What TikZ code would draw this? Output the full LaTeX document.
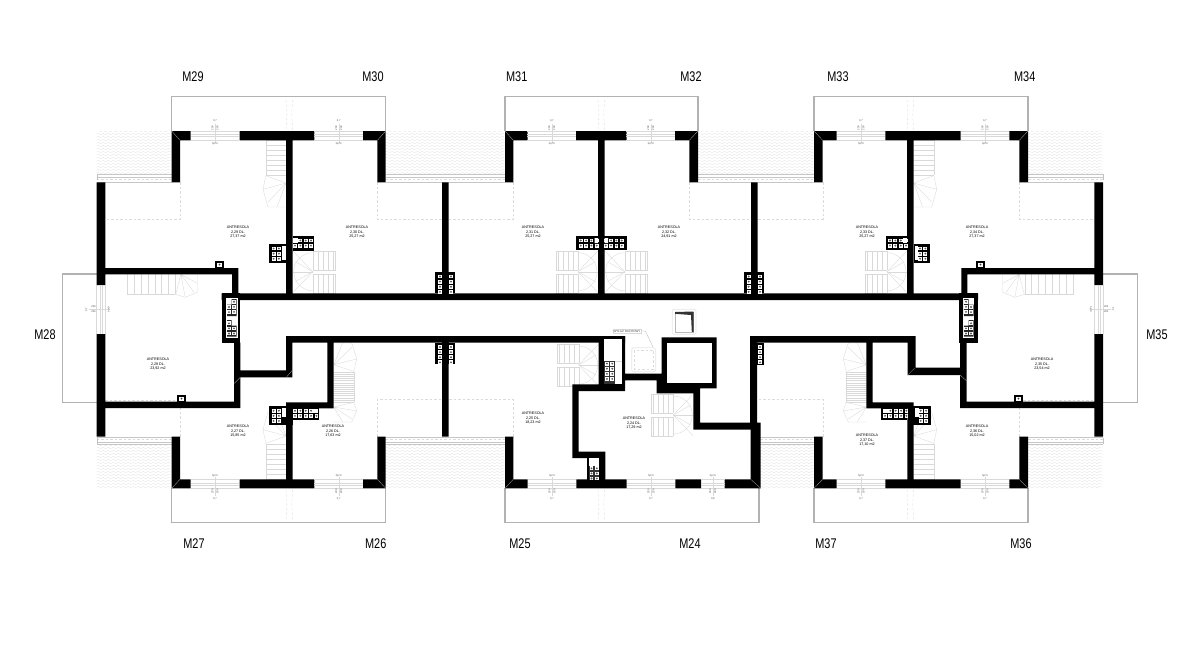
\documentclass[tikz,border=0pt]{standalone}
\usepackage{fontspec}
\setmainfont{Liberation Sans}
\newfontfamily\unitfont[FakeStretch=0.78]{Liberation Sans}
\usetikzlibrary{decorations.pathmorphing}

\tikzset{
  wall/.style={fill=black},
  rail/.style={draw=gray!60, line width=1.1pt},
  tread/.style={draw=gray!30, line width=.35pt},
  seam/.style={draw=gray!70, line width=.3pt},
  edge line/.style={draw=gray!28, line width=.35pt, dash pattern=on 2.5pt off 2pt},
  tile/.style={draw=gray!22, line width=.3pt, decorate, decoration={snake, amplitude=.7pt, segment length=5pt}},
  unit/.style={font=\unitfont\fontsize{14}{14}\selectfont, inner sep=0pt},
  room/.style={font=\fontsize{3.7}{4.1}\selectfont, align=center, inner sep=0pt},
  tiny/.style={font=\fontsize{2.6}{3}\selectfont, inner sep=0pt, text=black!70}
}

% roof tiles
\newcommand{\tileroof}[4]{
  \begin{scope}
    \clip (#1,#2) rectangle (#3,#4);
    \foreach \r in {0,...,14}
      \draw[tile] (#1,{#2+\r*3}) -- (#3,{#2+\r*3});
  \end{scope}
}
% white flues: first flue, count
\newcommand{\flues}[4]{
  \foreach \i in {1,...,#3}
    \foreach \j in {1,...,#4} {
      \fill[white] ({#1+(\i-1)*5.35-1.9},{#2+(\j-1)*5.1-1.9}) rectangle ++(3.8,3.8);
      \fill[black!65] ({#1+(\i-1)*5.35},{#2+(\j-1)*5.1}) circle (1.05);
    }
}
% black box round flues: corners, first flue, count
\newcommand{\fluebox}[8]{
  \fill[wall] (#1,#2) rectangle (#3,#4);
  \flues{#5}{#6}{#7}{#8}
}
% window: name, x, y, rotation, side, half width, width label
\newcommand{\opening}[7]{
  \pgfmathsetmacro{\txtrot}{(#4==90)?-90:90}
  \begin{scope}[shift={(#2,#3)}, rotate=#4, transform shape]
    \draw[tread] (-#6,-4.4) -- (#6,-4.4) (-#6,-1) -- (#6,-1) (-#6,1) -- (#6,1) (-#6,4.4) -- (#6,4.4);
    \draw[tread] (0,{-#5*7}) -- (0,{#5*12});
    \node[tiny] (#1hp) at (0,{-#5*8}) {hp=0};
    \node[tiny, rotate=\txtrot] (#1a) at (-2.5,{#5*7.5}) {200};
    \node[tiny, rotate=\txtrot] (#1b) at (2.5,{#5*7.5}) {200};
    \node[tiny] (#1w) at (0,{#5*14.5}) {#7};
  \end{scope}
}
% stair: flight of treads, then winders
\newcommand{\winderstair}[3][]{
  \begin{scope}[#1]
    \draw[tread] (0,0) -- (20,0) -- (20,#2) (0,#2) -- (20,#2);
    \foreach \t in {1,...,7}
      \draw[tread] (0,{#2*\t/7}) -- (20,{#2*\t/7});
    \draw[tread] (20,#2) -- (23,{#2+.45*#3}) -- (18,{#2+#3}) -- (0,{#2+#3});
    \draw[tread] (0,{#2+.25*#3}) -- (20,{#2+.02*#3})
      (0,{#2+.25*#3}) -- (23,{#2+.45*#3})
      (0,{#2+.25*#3}) -- (18,{#2+.85*#3})
      (0,{#2+.25*#3}) -- (9,{#2+#3});
  \end{scope}
}
% stair: two flights round a half landing
\newcommand{\ustair}[1][]{
  \begin{scope}[#1]
    \draw[tread] (20,0) -- (42,0) -- (42,19) -- (20,19) (20,23) -- (42,23) -- (42,42) -- (20,42);
    \foreach \t in {0,...,4} {
      \draw[tread] ({20+\t*5},0) -- ({20+\t*5},19);
      \draw[tread] ({20+\t*5},23) -- ({20+\t*5},42);
    }
    \draw[tread] (20,2) arc (-90:-270:19);
    \draw[tread] (20,21) -- (0,0) (20,21) -- (0,42);
    \foreach \a in {-30,0,30}
      \draw[tread] (20,21) -- ++({-20*cos(\a)},{20*sin(\a)});
  \end{scope}
}

\begin{document}
\begin{tikzpicture}[x=1pt, y=-1pt]
  \useasboundingbox (0,0) rectangle (1180,670);

  % roofs
  \tileroof{96.7}{131}{171.7}{174}
  \tileroof{385.7}{131}{505}{174}
  \tileroof{698}{131}{814}{174}
  \tileroof{1028}{131}{1103}{174}
  \tileroof{96.7}{445}{171.7}{488}
  \tileroof{385.7}{445}{505}{488}
  \tileroof{760}{445}{814}{488}
  \tileroof{1028}{445}{1103}{488}

  % gutters
  \foreach \xa/\xb in {96.7/171.7, 385.7/505, 698/814, 1028/1103} {
    \draw[draw=gray!45, line width=.4pt] (\xa,174.5) -- (\xb,174.5) (\xa,177) -- (\xb,177) (\xa,182) -- (\xb,182);
    \draw[edge line] (\xa,179.5) -- (\xb,179.5);
  }
  \foreach \xa/\xb in {96.7/171.7, 385.7/505, 760/814, 1028/1103} {
    \draw[draw=gray!45, line width=.4pt] (\xa,437) -- (\xb,437) (\xa,442) -- (\xb,442) (\xa,444.5) -- (\xb,444.5);
    \draw[edge line] (\xa,439.5) -- (\xb,439.5);
  }
  \draw[red!35, line width=.4pt] (96.7,174) -- (96.7,180) (1103,174) -- (1103,180) (96.7,438) -- (96.7,444) (1103,438) -- (1103,444);

  % balconies
  \draw[rail] (171.7,131) -- (171.7,96.7) -- (385.7,96.7) -- (385.7,131);
  \draw[rail] (505,131) -- (505,96.7) -- (698,96.7) -- (698,131);
  \draw[rail] (814,131) -- (814,96.7) -- (1028,96.7) -- (1028,131);
  \draw[rail] (171.7,488) -- (171.7,522.3) -- (385.7,522.3) -- (385.7,488);
  \draw[rail] (505,488) -- (505,522.3) -- (759,522.3) -- (759,488);
  \draw[rail] (814,488) -- (814,522.3) -- (1028,522.3) -- (1028,488);
  \draw[rail] (96.7,274) -- (62.7,274) -- (62.7,402.3) -- (96.7,402.3);
  \draw[rail] (1103,274) -- (1137.7,274) -- (1137.7,402.3) -- (1103,402.3);

  % balcony dividers
  \foreach \xa in {286,598,907} {
    \draw[edge line] (\xa,100) -- ++(1,12) -- ++(-1,18) ++(6.7,-30) -- ++(-1,14) -- ++(1,16);
    \draw[edge line] (\xa,490) -- ++(1,12) -- ++(-1,18) ++(6.7,-30) -- ++(-1,14) -- ++(1,16);
  }

  % mezzanine edges
  \draw[edge line] (180,182.3) -- (180,219.3) -- (105.3,219.3);
  \draw[edge line] (377.3,182.3) -- (377.3,219.3) -- (442,219.3);
  \draw[edge line] (513.3,182.3) -- (513.3,219.3) -- (448.7,219.3);
  \draw[edge line] (689.3,182.3) -- (689.3,219.3) -- (751,219.3);
  \draw[edge line] (822.7,182.3) -- (822.7,219.3) -- (757.7,219.3);
  \draw[edge line] (1019.3,182.3) -- (1019.3,219.3) -- (1094.3,219.3);
  \draw[edge line] (180,436.7) -- (180,408);
  \draw[edge line] (377.3,436.7) -- (377.3,399.3) -- (442,399.3);
  \draw[edge line] (513.3,436.7) -- (513.3,399.3) -- (448.7,399.3);
  \draw[edge line] (822.7,436.7) -- (822.7,399.3) -- (757,399.3);
  \draw[edge line] (1019.3,436.7) -- (1019.3,408);
  \draw[edge line] (105.3,400) -- (176.7,400);
  \draw[edge line] (1023.3,400) -- (1094.3,400);

  % stairs
  \winderstair[shift={(286,140)}, xscale=-1]{35}{32}
  \winderstair[shift={(913.7,140)}]{35}{32}
  \winderstair[shift={(286,479)}, xscale=-1, yscale=-1]{35}{32}
  \winderstair[shift={(913.7,479)}, yscale=-1]{35}{32}
  \winderstair[shift={(127.3,274.3)}, cm={0,-1,-1,0,(0,0)}]{48}{22}
  \winderstair[shift={(1072.7,274.3)}, cm={0,-1,1,0,(0,0)}]{48}{22}
  \winderstair[shift={(333.7,387)}]{15}{20}
  \winderstair[shift={(333.7,387)}, yscale=-1]{15}{29}
  \winderstair[shift={(866.3,387)}, xscale=-1]{15}{20}
  \winderstair[shift={(866.3,387)}, xscale=-1, yscale=-1]{15}{29}
  \ustair[shift={(292.7,250.7)}]
  \ustair[shift={(598,250.7)}, xscale=-1]
  \ustair[shift={(604.7,250.7)}]
  \ustair[shift={(907,250.7)}, xscale=-1]
  \ustair[shift={(598.7,344)}, xscale=-1]
  \ustair[shift={(693.3,394)}, xscale=-1]

  % walls, upper wing
  \fill[wall] (171.7,131) rectangle (190.7,140.3) (239.5,131) rectangle (314.3,140.3) (363,131) rectangle (385.7,140.3)
    (505,131) rectangle (527.7,140.3) (576,131) rectangle (626.7,140.3) (675,131) rectangle (698,140.3)
    (814,131) rectangle (836.7,140.3) (885.3,131) rectangle (960.7,140.3) (1009.3,131) rectangle (1028,140.3)
    (171.7,131) rectangle (180,182.3) (377.3,131) rectangle (385.7,182.3)
    (505,131) rectangle (513.3,182.3) (689.3,131) rectangle (698,182.3)
    (814,131) rectangle (822.7,182.3) (1019.3,131) rectangle (1028,182.3)
    (286,140) rectangle (292.7,293.3) (598,140) rectangle (604.7,293.3) (907,140) rectangle (913.7,293.3)
    (442,182.3) rectangle (448.7,293.3) (751,182.3) rectangle (757.7,293.3)
    (96.7,182.3) rectangle (105.3,285) (1094.3,182.3) rectangle (1103,285)
    (105,268) rectangle (238.3,274.3) (961.3,268) rectangle (1094.3,274.3)
    (232,268) rectangle (238.3,293.3) (961.3,268) rectangle (967.3,293.3)
    (221.7,293.3) rectangle (978,300);
  % walls, lower wing
  \fill[wall] (96.7,334) rectangle (105.3,436.7) (1094.3,334) rectangle (1103,436.7)
    (234,342.7) rectangle (240.3,408) (960,342.7) rectangle (966.7,408)
    (105,401.7) rectangle (240.3,408) (960,401.7) rectangle (1094.3,408)
    (240,370.3) rectangle (292.3,377.3) (907.7,367.7) rectangle (966.7,375)
    (286,336) rectangle (292.3,377.3) (907.7,336) rectangle (915.7,375)
    (286,336) rectangle (625,342.7) (750,336) rectangle (915.7,342.7)
    (327.3,342.7) rectangle (333.7,408.3) (866.3,342.7) rectangle (872.7,408.3)
    (286,402.3) rectangle (333.7,408.3) (866.3,402.3) rectangle (913.7,408.3)
    (286,402.3) rectangle (292.7,480) (907.3,402.3) rectangle (913.7,480)
    (442,342.7) rectangle (448.7,436.7) (750,336) rectangle (757,423)
    (171.7,479.3) rectangle (190.7,488.3) (239.5,479.3) rectangle (314.3,488.3) (363,479.3) rectangle (385.7,488.3)
    (505,479.3) rectangle (527.7,488.3) (576.3,479.3) rectangle (626.7,488.3) (675.3,479.3) rectangle (701,488.3) (724.7,479.3) rectangle (760.7,488.3)
    (814,479.3) rectangle (836.7,488.3) (885.3,479.3) rectangle (960.7,488.3) (1009.3,479.3) rectangle (1028,488.3)
    (171.7,436.7) rectangle (180,488) (377.3,436.7) rectangle (385.7,488)
    (505,436.7) rectangle (513.3,488) (750.7,422.7) rectangle (760.7,488)
    (814,436.7) rectangle (822.7,488) (1019.3,436.7) rectangle (1028,488);
  % walls, core
  \fill[wall] (598.7,336) rectangle (625,391) (572.3,384.3) rectangle (625,391)
    (625,373.7) rectangle (657,380.3) (656.7,373.7) rectangle (667.3,393.3)
    (661.7,337.3) rectangle (716.7,388.3) (656.7,383.3) rectangle (700,393.3)
    (693.3,383.3) rectangle (700,429.7) (693.3,422.7) rectangle (756.7,429.7)
    (572.3,384.3) rectangle (578.7,458) (572.3,451.7) rectangle (605.3,458)
    (587,451.7) rectangle (605.3,480);
  \fill[white] (667.3,342.7) rectangle (711.7,383.3);
  \fill[white] (604.3,339) rectangle (622.3,384.3);
  \fill[white] (589,458) rectangle (598.7,480);

  % wall corner seams
  \foreach \cx/\cy/\dx/\dy in {171.7/131/8.3/9.3, 385.7/131/-8.3/9.3, 505/131/8.3/9.3, 698/131/-8.7/9.3, 814/131/8.7/9.3, 1028/131/-8.7/9.3,
      171.7/488.3/8.3/-9, 385.7/488.3/-8.3/-9, 505/488.3/8.3/-9, 760.7/488.3/-10/-9, 814/488.3/8.7/-9, 1028/488.3/-8.7/-9,
      240.3/377.3/-6/6, 292.3/370.3/-6/7, 907.7/375/7/-7, 960/375/6.7/6}
    \draw[seam] (\cx,\cy) -- ++(\dx,\dy);

  % flue boxes
  \fluebox{269.3}{244}{286}{263.3}{273.6}{248.5}{2}{3}
  \fill[white] (281.5,246) rectangle (285.5,260);
  \fluebox{292.7}{236}{314.3}{250.7}{295}{240.5}{4}{2}
  \fill[white] (292.7,238) rectangle (298,243);
  \fluebox{435.3}{271.7}{455.3}{293.3}{440}{276.5}{1}{4}
  \flues{451}{276.5}{1}{4}
  \fluebox{744.3}{271.7}{764.3}{293.3}{748.7}{276.5}{1}{4}
  \flues{760}{276.5}{1}{4}
  \fluebox{576}{236}{626.7}{250.3}{580.7}{240.5}{4}{2}
  \flues{605.7}{240.5}{4}{2}
  \fill[white] (594.5,238) rectangle (598,243) (604.7,238) rectangle (608,243);
  \fluebox{885.7}{236}{907}{250.3}{890}{240.5}{4}{2}
  \fill[white] (902.5,238) rectangle (907,243);
  \fluebox{913.7}{244}{930.3}{263.3}{920}{248.5}{2}{3}
  \fill[white] (914.7,246) rectangle (917.7,260);
  \fill[wall] (221.7,293.3) rectangle (240.3,342.7);
  \fill[white] (226,298) rectangle (237.7,337.7);
  \fill[black!85] (231.5,299) rectangle (236.5,316) (227,304.5) rectangle (231.5,316)
    (227,320) rectangle (231.5,336.5) (231.5,325.5) rectangle (236.5,336.5);
  \flues{234}{301.7}{1}{3}
  \flues{229}{307}{1}{2}
  \flues{229}{323.3}{1}{3}
  \flues{234}{328.4}{1}{2}
  \fill[wall] (959.3,293.3) rectangle (978,342.7);
  \fill[white] (963.3,298) rectangle (974,337.7);
  \fill[black!85] (963.8,299) rectangle (968.5,316) (968.5,304.5) rectangle (973.5,316)
    (968.5,320) rectangle (973.5,336.5) (963.8,325.5) rectangle (968.5,336.5);
  \flues{966}{301.7}{1}{3}
  \flues{971}{307}{1}{2}
  \flues{971}{323.3}{1}{3}
  \flues{966}{328.4}{1}{2}
  \fluebox{435.3}{342.7}{455.3}{364.3}{440}{347}{1}{4}
  \flues{451}{347}{1}{4}
  \fluebox{757}{342.7}{764.3}{365}{760}{347}{1}{4}
  \fluebox{269.3}{406}{292.7}{425}{273.6}{410.7}{2}{3}
  \fill[white] (281.5,408) rectangle (286,417);
  \fluebox{292}{408}{319.3}{420.3}{295}{410.7}{5}{2}
  \fill[white] (312.7,408.6) rectangle (317.5,413.2);
  \fluebox{880.7}{406.7}{907.3}{420.3}{885}{410.7}{5}{2}
  \fill[white] (883,408.6) rectangle (887.5,413.2);
  \fluebox{913}{406}{930.7}{425}{920.7}{410.7}{2}{3}
  \fill[white] (914.7,408) rectangle (918.5,417);
  \fill[black!80] (604.3,360.7) rectangle (615,384.3);
  \flues{606.9}{363.6}{2}{4}
  \draw[tread] (615,361) -- (622.3,361);
  \fill[black!80] (589,465.5) rectangle (598.7,480);
  \flues{591.5}{468.3}{2}{3}

  % chimney cowls
  \foreach \bx/\by in {214.7/260.7, 176.7/394.7, 975.7/260.7, 1013.7/394.7} {
    \fill[wall] (\bx,\by) rectangle ++(9.6,7.5);
    \fill[white] (\bx+2.4,\by+1.8) rectangle ++(4.8,4.5);
    \fill[black!75] (\bx+4.8,\by+4) circle (1);
  }

  % windows
  \foreach \wn/\wx in {a/215, b/338.7, c/551.8, d/650.8, e/861, f/985} {
    \opening{w\wn}{\wx}{135.6}{0}{-1}{24.4}{0,7}
  }
  \foreach \wn/\wx in {g/215, h/338.7, i/552, j/651, k/861, l/985} {
    \opening{w\wn}{\wx}{483.8}{0}{1}{24.4}{0,7}
  }
  \opening{wm}{712.8}{483.8}{0}{1}{12}{0,8}
  \opening{wn}{101}{309.5}{90}{-1}{24.5}{0,7}
  \opening{wo}{1098.7}{309.5}{-90}{-1}{24.5}{0,7}

  % roof hatch and skylight
  \draw[draw=gray!20, line width=.7pt, rounded corners=1.5pt] (631.7,347.7) rectangle (655.7,371.7);
  \draw[edge line] (634,350) rectangle (653.5,369);
  \node[tiny, draw=gray!30, line width=.3pt, inner sep=.8pt, font=\fontsize{3}{3}\selectfont] (hatchlabel) at (627,331) {WYŁAZ DACHOWY};
  \draw[draw=gray!60, line width=.3pt] (hatchlabel.east) -- ++(4,0) -- (653,347);
  \draw[draw=gray!20, line width=.7pt, rounded corners=1.5pt] (672.3,309.3) rectangle (696,334.3);
  \draw[draw=gray!55, line width=.4pt] (675,312) rectangle (693.5,332);
  \fill[black!80] (675,312) -- (693.5,311.5) -- (693.5,332) -- (691.8,332) -- (691,315) -- (675,313.8) -- cycle;

  % unit numbers
  \node[unit] (m29) at (193,77) {M29};
  \node[unit] (m30) at (373,77) {M30};
  \node[unit] (m31) at (516.7,77) {M31};
  \node[unit] (m32) at (691,77) {M32};
  \node[unit] (m33) at (838,77) {M33};
  \node[unit] (m34) at (1024.7,77) {M34};
  \node[unit] (m28) at (45,335) {M28};
  \node[unit] (m35) at (1157,335) {M35};
  \node[unit] (m27) at (194,544) {M27};
  \node[unit] (m26) at (375.7,544) {M26};
  \node[unit] (m25) at (520,544) {M25};
  \node[unit] (m24) at (690,544) {M24};
  \node[unit] (m37) at (826,544) {M37};
  \node[unit] (m36) at (1021,544) {M36};

  % room labels
  \node[room] (room29) at (238,232) {ANTRESOLA\\2,29 DL.\\27,37 m2};
  \node[room] (room30) at (357,232) {ANTRESOLA\\2,30 DL.\\25,27 m2};
  \node[room] (room31) at (533,232) {ANTRESOLA\\2,31 DL.\\25,27 m2};
  \node[room] (room32) at (669,232) {ANTRESOLA\\2,32 DL.\\24,91 m2};
  \node[room] (room33) at (867,232) {ANTRESOLA\\2,33 DL.\\25,27 m2};
  \node[room] (room34) at (977,232) {ANTRESOLA\\2,34 DL.\\27,37 m2};
  \node[room] (room28) at (158,364) {ANTRESOLA\\2,28 DL.\\23,92 m2};
  \node[room] (room35) at (1042,364) {ANTRESOLA\\2,35 DL.\\23,54 m2};
  \node[room] (room27) at (238,431) {ANTRESOLA\\2,27 DL.\\15,85 m2};
  \node[room] (room26) at (333,431) {ANTRESOLA\\2,26 DL.\\17,63 m2};
  \node[room] (room25) at (533,418) {ANTRESOLA\\2,25 DL.\\18,23 m2};
  \node[room] (room24) at (634,423) {ANTRESOLA\\2,24 DL.\\17,29 m2};
  \node[room] (room37) at (867,440) {ANTRESOLA\\2,37 DL.\\17,10 m2};
  \node[room] (room36) at (977,431) {ANTRESOLA\\2,36 DL.\\15,02 m2};
\end{tikzpicture}
\end{document}
